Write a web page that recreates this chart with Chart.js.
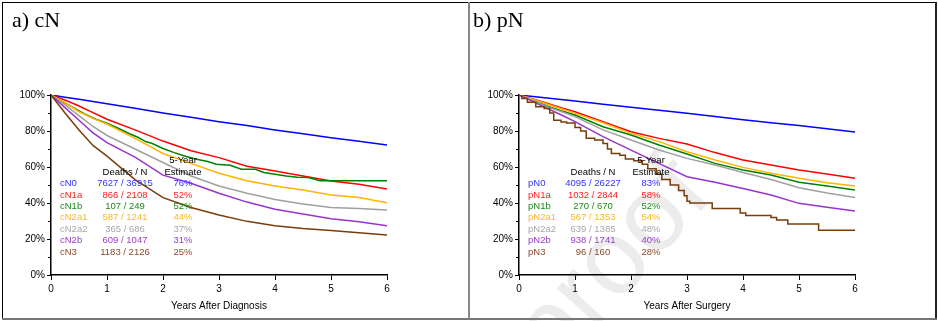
<!DOCTYPE html>
<html>
<head>
<meta charset="utf-8">
<script src="https://cdn.jsdelivr.net/npm/chart.js@4.4.0/dist/chart.umd.min.js"></script>
<style>
html, body { margin: 0; padding: 0; background: #fff; overflow: hidden; }
#page { position: relative; width: 938px; height: 321px; overflow: hidden; }
.panel { position: absolute; top: 0; width: 468px; height: 321px; }
#panelA { left: 0; }
#panelB { left: 468px; }
.line { position: absolute; }
#watermark {
    position: absolute; left: 566px; top: 280px;
    font: 105px "Liberation Sans", Arial, sans-serif; color: #ececec;
    transform: rotate(-48deg); transform-origin: left bottom; white-space: nowrap;
    line-height: 105px;
}
</style>
</head>
<body>
<div id="page">
    <div id="watermark">proof</div>
    <div class="panel" id="panelA"><canvas id="chartA" width="468" height="321"></canvas></div>
    <div class="panel" id="panelB"><canvas id="chartB" width="468" height="321"></canvas></div>
    <!-- frame -->
    <div class="line" style="left:2px;top:2px;width:934px;height:1px;background:#000"></div>
    <div class="line" style="left:2px;top:2px;width:1px;height:317px;background:#000"></div>
    <div class="line" style="left:935px;top:2px;width:2px;height:318px;background:#222"></div>
    <div class="line" style="left:2px;top:318px;width:935px;height:2px;background:#777"></div>
    <div class="line" style="left:468px;top:2px;width:2px;height:317px;background:#888"></div>
</div>
<script>
// axis ticks
const yearTicks = [0, 1, 2, 3, 4, 5, 6];
const pctTicks = [0, 20, 40, 60, 80, 100];
const minorPct = [10, 30, 50, 70, 90];

// shared time grid (years) for the smoother curves
const gridTimes = [0, 0.25, 0.5, 0.75, 1, 1.5, 2, 2.5, 3, 3.5, 4, 4.5, 5, 5.5, 6];

// a) clinical N - survival %
const cN0   = [100, 98.8, 97.6, 96.4, 95.2, 92.6, 90.0, 87.6, 85.2, 83.0, 80.6, 78.5, 76.3, 74.3, 72.2];
const cN1a  = [100, 97.2, 93.9, 90.2, 86.5, 80.6, 74.4, 69.0, 65.2, 60.4, 57.8, 55.0, 52.2, 50.4, 47.8];
const cN2a1 = [100, 95.8, 90.7, 87.0, 83.9, 75.9, 67.5, 62.0, 56.5, 52.4, 49.4, 47.2, 44.4, 43.1, 40.2];
const cN2a2 = [100, 94.5, 88.5, 82.5, 77.5, 70.0, 62.5, 55.0, 49.4, 45.4, 42.0, 39.4, 37.5, 37.0, 36.1];
const cN2b  = [100, 93.0, 86.0, 79.0, 73.5, 65.5, 55.5, 51.0, 45.4, 40.5, 36.5, 33.9, 31.3, 29.6, 27.4];
const cN3   = [100, 90.0, 80.5, 72.0, 66.0, 53.0, 43.0, 37.5, 33.3, 29.8, 27.4, 25.8, 24.7, 23.5, 22.2];
// small group, own time points with plateaus
const cN1bTimes = [0, 0.2, 0.4, 0.6, 0.8, 1.0, 1.2, 1.4, 1.55, 1.7, 1.8, 2.0, 2.2, 2.4, 2.6, 2.8, 2.95, 3.2, 3.4, 3.65, 3.8, 4.0, 4.2, 4.4, 4.6, 4.8, 6];
const cN1b      = [100, 96.5, 93.0, 89.5, 86.5, 84.3, 81.5, 78.5, 76.5, 74.0, 73.2, 70.3, 68.0, 66.0, 64.3, 63.0, 61.5, 61.0, 58.8, 58.7, 57.0, 56.0, 55.0, 54.3, 54.2, 52.4, 52.4];

// b) pathological N - survival %
const pN0   = [100, 99.15, 98.3, 97.45, 96.6, 94.9, 93.2, 91.5, 89.8, 88.0, 86.3, 84.6, 83.0, 81.2, 79.5];
const pN1a  = [100, 97.8, 95.4, 93.0, 90.7, 85.2, 79.6, 75.9, 72.8, 68.0, 63.9, 61.1, 58.3, 56.1, 53.7];
const pN1b  = [100, 97.0, 93.9, 91.3, 88.9, 82.4, 77.8, 72.2, 67.2, 62.0, 58.3, 55.6, 51.5, 49.4, 47.2];
const pN2a1 = [100, 97.6, 95.0, 92.4, 89.8, 84.6, 78.7, 74.1, 68.5, 63.9, 59.8, 56.5, 53.7, 51.3, 49.4];
const pN2a2 = [100, 96.8, 93.5, 90.8, 88.0, 80.6, 75.0, 69.4, 64.8, 61.1, 56.9, 53.1, 48.5, 45.5, 43.1];
const pN2b  = [100, 96.3, 92.6, 89.0, 85.2, 76.9, 69.4, 62.0, 54.6, 51.5, 48.1, 44.4, 39.8, 37.6, 35.6];
// step curve (small group)
const pN3Times = [0, 0.05, 0.15, 0.3, 0.45, 0.55, 0.62, 0.75, 0.85, 1.0, 1.1, 1.2, 1.35, 1.5, 1.58, 1.65, 1.8, 1.9, 2.05, 2.2, 2.3, 2.45, 2.55, 2.7, 2.85, 2.95, 3.0, 3.05, 3.45, 3.95, 4.05, 4.5, 4.6, 4.8, 5.35, 6];
const pN3      = [100, 98, 96, 93.5, 92.5, 90, 86, 85, 84.4, 82, 80, 76, 75, 73, 70, 67.5, 66.5, 64.5, 63.5, 61.5, 59, 56, 53, 50, 47, 44, 41, 40, 37, 34.5, 33, 32, 30.5, 28.3, 24.8, 24.8];

// table text
const cLabels = ['cN0', 'cN1a', 'cN1b', 'cN2a1', 'cN2a2', 'cN2b', 'cN3'];
const cDeathsN = ['7627 / 36915', '866 / 2108', '107 / 249', '587 / 1241', '365 / 686', '609 / 1047', '1183 / 2126'];
const cEstimates = ['76%', '52%', '52%', '44%', '37%', '31%', '25%'];
const pLabels = ['pN0', 'pN1a', 'pN1b', 'pN2a1', 'pN2a2', 'pN2b', 'pN3'];
const pDeathsN = ['4095 / 26227', '1032 / 2844', '270 / 670', '567 / 1353', '639 / 1385', '938 / 1741', '96 / 160'];
const pEstimates = ['83%', '58%', '52%', '54%', '48%', '40%', '28%'];

const lineColors = ['#0000ff', '#ff0000', '#008000', '#ffb400', '#a0a0a0', '#9933cc', '#7a3d0a'];
const textColors = ['#3333ff', '#ff2020', '#1a8a1a', '#ffb820', '#a8a8a8', '#9a3ccc', '#8b4a2b'];

const FONT = '"Liberation Sans", Arial, sans-serif';

function toPoints(times, vals) {
    return times.map((t, i) => ({ x: t, y: vals[i] }));
}

// minor ticks, panel title and the deaths / estimate table
const panelText = {
    id: 'panelText',
    afterDatasetsDraw(chart, args, o) {
        const ctx = chart.ctx;
        const area = chart.chartArea;
        const y = chart.scales.y;
        ctx.save();
        ctx.strokeStyle = '#000';
        ctx.lineWidth = 1;
        minorPct.forEach(v => {
            const py = Math.round(y.getPixelForValue(v)) + 0.5;
            ctx.beginPath();
            ctx.moveTo(area.left - 3, py);
            ctx.lineTo(area.left, py);
            ctx.stroke();
        });

        ctx.font = '22px "Liberation Serif", "Times New Roman", serif';
        ctx.fillStyle = '#000';
        ctx.textAlign = 'left';
        ctx.textBaseline = 'alphabetic';
        ctx.fillText(o.title, o.titleX, 27);

        ctx.font = '9.5px ' + FONT;
        ctx.textBaseline = 'middle';
        ctx.textAlign = 'center';
        ctx.fillStyle = '#000';
        const colD = area.left + 74;
        const colE = area.left + 132;
        ctx.fillText('5-Year', colE, area.top + 65);
        ctx.fillText('Estimate', colE, area.top + 77);
        ctx.fillText('Deaths / N', colD, area.top + 77);
        o.labels.forEach((lab, i) => {
            const ry = area.top + 88.5 + i * 11.45;
            ctx.fillStyle = textColors[i];
            ctx.textAlign = 'left';
            ctx.fillText(lab, area.left + 9, ry);
            ctx.textAlign = 'center';
            ctx.fillText(o.deaths[i], colD, ry);
            ctx.fillText(o.est[i], colE, ry);
        });
        ctx.restore();
    }
};

function makePanel(canvasId, curves, xTitle, text) {
    const datasets = curves.map((c, i) => ({
        data: toPoints(c.times, c.vals),
        borderColor: lineColors[i],
        borderWidth: 1.5,
        stepped: c.stepped ? true : false,
        pointRadius: 0,
        fill: false,
        order: 7 - i
    }));
    const tickFont = { family: FONT, size: 10 };
    return new Chart(document.getElementById(canvasId), {
        type: 'line',
        data: { datasets },
        plugins: [panelText],
        options: {
            responsive: false,
            animation: false,
            layout: { padding: { left: 0, top: 95, right: 81, bottom: 9 } },
            plugins: {
                legend: { display: false },
                tooltip: { enabled: false },
                panelText: text
            },
            scales: {
                x: {
                    type: 'linear', min: 0, max: 6,
                    afterBuildTicks: s => { s.ticks = yearTicks.map(v => ({ value: v })); },
                    afterFit: s => { s.height = 37; },
                    ticks: { font: tickFont, color: '#000', padding: 3, maxRotation: 0, autoSkip: false },
                    grid: { drawOnChartArea: false, tickLength: 5, color: '#000', lineWidth: 1 },
                    border: { color: '#000', width: 1.5 },
                    title: { display: true, text: xTitle, font: tickFont, color: '#000', padding: 0 }
                },
                y: {
                    min: 0, max: 100,
                    afterBuildTicks: s => { s.ticks = pctTicks.map(v => ({ value: v })); },
                    afterFit: s => { s.width = 51; },
                    ticks: { font: tickFont, color: '#000', padding: 2, callback: v => v + '%' },
                    grid: { drawOnChartArea: false, tickLength: 4, color: '#000', lineWidth: 1 },
                    border: { color: '#000', width: 1.5 }
                }
            }
        }
    });
}

makePanel('chartA', [
    { times: gridTimes, vals: cN0 },
    { times: gridTimes, vals: cN1a },
    { times: cN1bTimes, vals: cN1b },
    { times: gridTimes, vals: cN2a1 },
    { times: gridTimes, vals: cN2a2 },
    { times: gridTimes, vals: cN2b },
    { times: gridTimes, vals: cN3 }
], 'Years After Diagnosis', { title: 'a) cN', titleX: 12, labels: cLabels, deaths: cDeathsN, est: cEstimates });

makePanel('chartB', [
    { times: gridTimes, vals: pN0 },
    { times: gridTimes, vals: pN1a },
    { times: gridTimes, vals: pN1b },
    { times: gridTimes, vals: pN2a1 },
    { times: gridTimes, vals: pN2a2 },
    { times: gridTimes, vals: pN2b },
    { times: pN3Times, vals: pN3, stepped: true }
], 'Years After Surgery', { title: 'b) pN', titleX: 5, labels: pLabels, deaths: pDeathsN, est: pEstimates });
</script>
</body>
</html>
